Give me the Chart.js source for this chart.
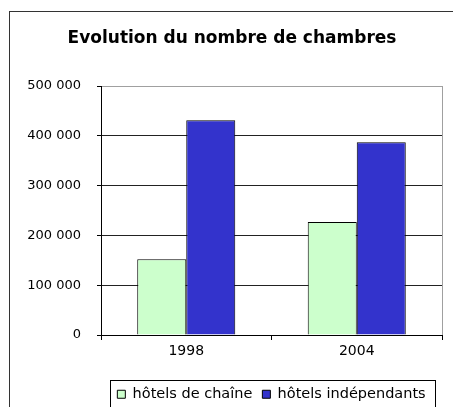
<!DOCTYPE html>
<html>
<head>
<meta charset="utf-8">
<script src="https://cdn.jsdelivr.net/npm/chart.js@4"></script>
<style>
  html, body { margin: 0; padding: 0; background: #fff; }
  canvas { display: block; }
</style>
</head>
<body>
<canvas id="chart" width="453" height="407"></canvas>
<script>
// données
const years = ["1998", "2004"];
const hotelsChaine = [152000, 227000];
const hotelsIndependants = [431000, 387000];
const yTicks = [0, 100000, 200000, 300000, 400000, 500000];

// 500000 -> "500 000"
function formatNombre(v) {
    return String(v).replace(/\B(?=(\d{3})+(?!\d))/g, " ");
}

// cadre extérieur, bord droit du graphique, cadre de la légende
const cadres = {
    id: "cadres",
    afterDraw(chart) {
        const ctx = chart.ctx;
        const area = chart.chartArea;
        ctx.save();
        ctx.lineWidth = 1;
        ctx.strokeStyle = "#333";
        ctx.strokeRect(9.5, 11.5, 500, 500);

        ctx.strokeStyle = "#a0a0a0";
        ctx.beginPath();
        ctx.moveTo(Math.round(area.right) + 0.5, area.top);
        ctx.lineTo(Math.round(area.right) + 0.5, area.bottom);
        ctx.stroke();

        const hb = chart.legend.legendHitBoxes;
        if (hb && hb.length) {
            const last = hb[hb.length - 1];
            const left = Math.round(hb[0].left - 7) + 0.5;
            const right = Math.round(last.left + last.width + 9) + 0.5;
            const top = Math.round(chart.legend.top + 3) + 0.5;
            ctx.strokeStyle = "#000";
            ctx.strokeRect(left, top, right - left, 60);
        }
        ctx.restore();
    }
};

Chart.defaults.font.family = "'DejaVu Sans', sans-serif";
Chart.defaults.color = "#000";

new Chart(document.getElementById("chart"), {
    type: "bar",
    data: {
        labels: years,
        datasets: [
            {
                label: "hôtels de chaîne",
                data: hotelsChaine,
                backgroundColor: "#ccffcc",
                borderColor: "#000",
                borderWidth: 1
            },
            {
                label: "hôtels indépendants",
                data: hotelsIndependants,
                backgroundColor: "#3333cc",
                borderColor: "#000",
                borderWidth: 1
            }
        ]
    },
    options: {
        responsive: false,
        animation: false,
        categoryPercentage: 0.575,
        barPercentage: 1,
        layout: { padding: { left: 22, right: 11, top: 0, bottom: -4.5 } },
        plugins: {
            title: {
                display: true,
                text: "Evolution du nombre de chambres",
                font: { size: 17, weight: "bold" },
                color: "#000",
                padding: { top: 28, bottom: 37.6 }
            },
            legend: {
                position: "bottom",
                fullSize: false,
                labels: {
                    boxWidth: 8,
                    boxHeight: 8,
                    padding: 10,
                    font: { size: 14.5 },
                    color: "#000"
                }
            },
            tooltip: { enabled: false }
        },
        scales: {
            x: {
                offset: true,
                grid: {
                    offset: true,
                    drawOnChartArea: false,
                    drawTicks: true,
                    tickLength: 5,
                    color: "#000"
                },
                border: { color: "#000" },
                ticks: { font: { size: 14 }, padding: 3, color: "#000" },
                afterFit(scale) { scale.height = 42; }
            },
            y: {
                min: 0,
                max: 500000,
                afterBuildTicks(scale) {
                    scale.ticks = yTicks.map(v => ({ value: v }));
                },
                grid: {
                    color: c => (c.tick && c.tick.value === 500000) ? "#a0a0a0" : "#222",
                    tickColor: "#000",
                    tickLength: 4
                },
                border: { color: "#000" },
                ticks: {
                    font: { size: 13 },
                    padding: 16,
                    color: "#000",
                    callback: v => formatNombre(v)
                },
                afterFit(scale) { scale.width = 79; }
            }
        }
    },
    plugins: [cadres]
});
</script>
</body>
</html>
